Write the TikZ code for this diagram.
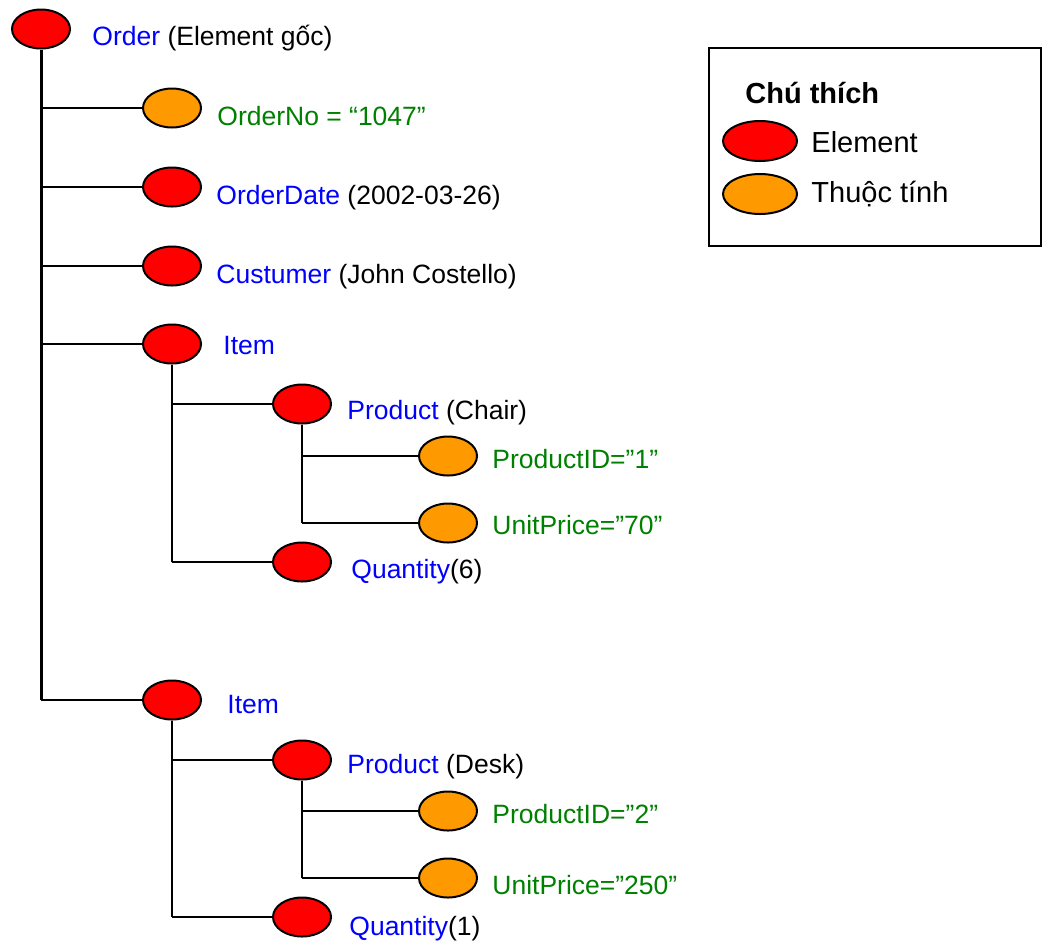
\documentclass[tikz,border=0pt]{standalone}
\usepackage{fontspec}
\setmainfont{Liberation Sans}
\usetikzlibrary{shapes.geometric}

\definecolor{elemred}{HTML}{FF0000}
\definecolor{attrorange}{HTML}{FF9900}
\definecolor{tagblue}{HTML}{0000FF}
\definecolor{attrgreen}{HTML}{008000}

\tikzset{
  elem/.style={ellipse,draw,line width=1pt,fill=elemred,minimum width=29pt,minimum height=19.5pt,inner sep=0pt},
  attr/.style={elem,fill=attrorange},
  lbl/.style={anchor=base west,inner sep=0pt,font=\fontsize{13.25}{15}\selectfont},
  trunk/.style={line width=1.5pt},
  branch/.style={line width=1pt}
}

\begin{document}
\begin{tikzpicture}[x=0.5pt,y=-0.5pt]
    \useasboundingbox (0,0) rectangle (1042,943);

    % root element
    \node[elem] (order) at (41,29) {};
    \node[lbl] (orderTxt) at (92,45) {\textcolor{tagblue}{Order} (Element gốc)};

    \node[attr] (orderNo) at (172,108) {};
    \node[lbl] (orderNoTxt) at (217,125) {\textcolor{attrgreen}{OrderNo = “1047”}};
    \node[elem] (orderDate) at (172,187) {};
    \node[lbl] (orderDateTxt) at (216,204) {\textcolor{tagblue}{OrderDate} (2002-03-26)};
    \node[elem] (custumer) at (172,266) {};
    \node[lbl] (custumerTxt) at (216,283) {\textcolor{tagblue}{Custumer} (John Costello)};

    % first item
    \node[elem] (itemA) at (172,344) {};
    \node[lbl] (itemATxt) at (223,354) {\textcolor{tagblue}{Item}};
    \node[elem] (productA) at (302,404) {};
    \node[lbl] (productATxt) at (347,419) {\textcolor{tagblue}{Product} (Chair)};
    \node[attr] (pidA) at (448,456) {};
    \node[lbl] (pidATxt) at (492,468) {\textcolor{attrgreen}{ProductID=”1”}};
    \node[attr] (priceA) at (448,523) {};
    \node[lbl] (priceATxt) at (492,534) {\textcolor{attrgreen}{UnitPrice=”70”}};
    \node[elem] (qtyA) at (302,562) {};
    \node[lbl] (qtyATxt) at (351,578) {\textcolor{tagblue}{Quantity}(6)};

    % second item
    \node[elem] (itemB) at (172,700) {};
    \node[lbl] (itemBTxt) at (227,713) {\textcolor{tagblue}{Item}};
    \node[elem] (productB) at (302,760) {};
    \node[lbl] (productBTxt) at (347,773) {\textcolor{tagblue}{Product} (Desk)};
    \node[attr] (pidB) at (448,811) {};
    \node[lbl] (pidBTxt) at (492,823) {\textcolor{attrgreen}{ProductID=”2”}};
    \node[attr] (priceB) at (448,878) {};
    \node[lbl] (priceBTxt) at (492,894) {\textcolor{attrgreen}{UnitPrice=”250”}};
    \node[elem] (qtyB) at (302,917) {};
    \node[lbl] (qtyBTxt) at (349,935) {\textcolor{tagblue}{Quantity}(1)};

    % connectors
    \draw[trunk] (order.south) -- (order.south |- itemB.west);
    \foreach \n in {orderNo,orderDate,custumer,itemA,itemB}
        \draw[branch] (order.south |- \n.west) -- (\n.west);
    \draw[branch] (itemA.south) -- (itemA.south |- qtyA.west);
    \draw[branch] (itemB.south) -- (itemB.south |- qtyB.west);
    \foreach \n in {productA,qtyA}
        \draw[branch] (itemA.south |- \n.west) -- (\n.west);
    \foreach \n in {productB,qtyB}
        \draw[branch] (itemB.south |- \n.west) -- (\n.west);
    \draw[branch] (productA.south) -- (productA.south |- priceA.west);
    \draw[branch] (productB.south) -- (productB.south |- priceB.west);
    \foreach \n in {pidA,priceA}
        \draw[branch] (productA.south |- \n.west) -- (\n.west);
    \foreach \n in {pidB,priceB}
        \draw[branch] (productB.south |- \n.west) -- (\n.west);

    % legend
    \draw[line width=1pt] (709,48) rectangle (1041,246);
    \node[lbl,font=\fontsize{14.5}{16}\selectfont\bfseries] (legendTitle) at (745,103) {Chú thích};
    \node[elem,minimum width=37pt,minimum height=20pt] (legendElem) at (760,141) {};
    \node[lbl,font=\fontsize{14.5}{16}\selectfont] (legendElemTxt) at (811,152) {Element};
    \node[attr,minimum width=37pt,minimum height=20pt] (legendAttr) at (760,194) {};
    \node[lbl,font=\fontsize{14.5}{16}\selectfont] (legendAttrTxt) at (811,202) {Thuộc tính};
\end{tikzpicture}
\end{document}
